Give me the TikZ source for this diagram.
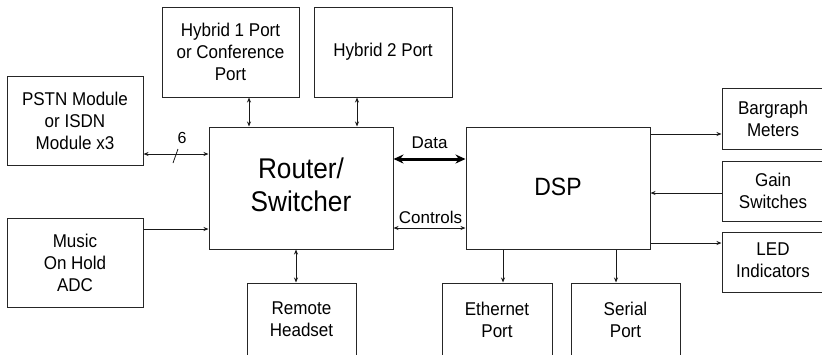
\documentclass[tikz,border=0pt]{standalone}
\usepackage{fontspec}
\setmainfont{Liberation Sans}[FakeStretch=0.92]
\newfontfamily\labelfamily{Liberation Sans}
\usetikzlibrary{arrows.meta,calc}

\begin{document}
\begin{tikzpicture}[x=1pt,y=-1pt,
  box/.style={draw=black!85, line width=1pt, align=center, inner sep=0pt,
    font=\fontsize{18.5}{22}\selectfont},
  link/.style={line width=0.8pt, draw=black!90},
  toend/.style={-{Stealth[length=5pt,width=4pt]}},
  both/.style={{Stealth[length=5pt,width=4pt]}-{Stealth[length=5pt,width=4pt]}},
  bus/.style={line width=3pt, draw=black,
    {Stealth[length=10pt,width=9pt]}-{Stealth[length=10pt,width=9pt]}},
  tag/.style={font=\labelfamily\fontsize{17}{20}\selectfont, inner sep=0pt}
]
\useasboundingbox (0,0) rectangle (822,354);
\clip (0,0) rectangle (822,354);

% blocks
\node[box, minimum width=136pt, minimum height=89pt] (pstn) at (75,120.5)
  {PSTN Module\\or ISDN\\Module x3};
\node[box, minimum width=136pt, minimum height=89pt] (moh) at (75,262.5)
  {Music\\On Hold\\ADC};
\node[box, minimum width=137pt, minimum height=90pt] (hyb1) at (230.5,52)
  {Hybrid 1 Port\\or Conference\\Port};
\node[box, minimum width=138pt, minimum height=90pt] (hyb2) at (383,52)
  {\raisebox{5pt}{Hybrid 2 Port}};
\node[box, minimum width=184pt, minimum height=122pt,
  font=\fontsize{28.5}{33}\selectfont] (router) at (301,188)
  {\raisebox{3pt}{\begin{tabular}{@{}c@{}}Router/\\Switcher\end{tabular}}};
\node[box, minimum width=184pt, minimum height=122pt,
  font=\fontsize{25}{30}\selectfont] (dsp) at (558,188)
  {\raisebox{3pt}{DSP}};
\node[box, minimum width=102pt, minimum height=61pt] (bar) at (773,118.5)
  {Bargraph\\Meters};
\node[box, minimum width=102pt, minimum height=60pt] (gain) at (773,191)
  {Gain\\Switches};
\node[box, minimum width=102pt, minimum height=60pt] (led) at (773,262)
  {\raisebox{-6pt}{\begin{tabular}{@{}c@{}}LED\\Indicators\end{tabular}}};
\node[box, minimum width=109pt, minimum height=73pt] (remote) at (301.5,319.5)
  {Remote\\Headset};
\node[box, minimum width=110pt, minimum height=73pt] (eth) at (497,319.5)
  {Ethernet\\Port};
\node[box, minimum width=109pt, minimum height=73pt] (serial) at (625.5,319.5)
  {Serial\\Port};

% connector levels
\coordinate (lvPstn) at (0,154);
\coordinate (lvMoh) at (0,229);
\coordinate (lvData) at (0,159);
\coordinate (lvCtl) at (0,228);
\coordinate (lvBar) at (0,134);
\coordinate (lvGain) at (0,193);
\coordinate (lvLed) at (0,243);
\coordinate (cxHyb1) at (249,0);
\coordinate (cxHyb2) at (357,0);
\coordinate (cxRemote) at (296,0);
\coordinate (cxEth) at (503,0);
\coordinate (cxSerial) at (616,0);

% router side
\draw[link, both] (pstn.east |- lvPstn) -- (router.west |- lvPstn);
\coordinate (pstnMid) at ($(pstn.east |- lvPstn)!0.5!(router.west |- lvPstn)$);
\draw[link] (pstnMid) ++(-3,9) -- ++(5,-14);
\node[tag, font=\labelfamily\fontsize{16}{19}\selectfont] (six) at ($(pstnMid)+(6,-16)$) {6};
\draw[link, toend] (moh.east |- lvMoh) -- (router.west |- lvMoh);
\draw[link, both] (hyb1.south -| cxHyb1) -- (router.north -| cxHyb1);
\draw[link, both] (hyb2.south -| cxHyb2) -- (router.north -| cxHyb2);
\draw[link, both] (router.south -| cxRemote) -- (remote.north -| cxRemote);

% router to DSP
\draw[bus] (router.east |- lvData) -- (dsp.west |- lvData);
\node[tag, anchor=base] (datalbl) at (429.5,148) {Data};
\draw[link, both] (router.east |- lvCtl) -- (dsp.west |- lvCtl);
\node[tag, anchor=base] (ctllbl) at (430.5,223) {Controls};

% DSP side
\draw[link, toend] (dsp.east |- lvBar) -- (bar.west |- lvBar);
\draw[link, toend] (gain.west |- lvGain) -- (dsp.east |- lvGain);
\draw[link, toend] (dsp.east |- lvLed) -- (led.west |- lvLed);
\draw[link, toend] (dsp.south -| cxEth) -- (eth.north -| cxEth);
\draw[link, toend] (dsp.south -| cxSerial) -- (serial.north -| cxSerial);
\end{tikzpicture}
\end{document}
